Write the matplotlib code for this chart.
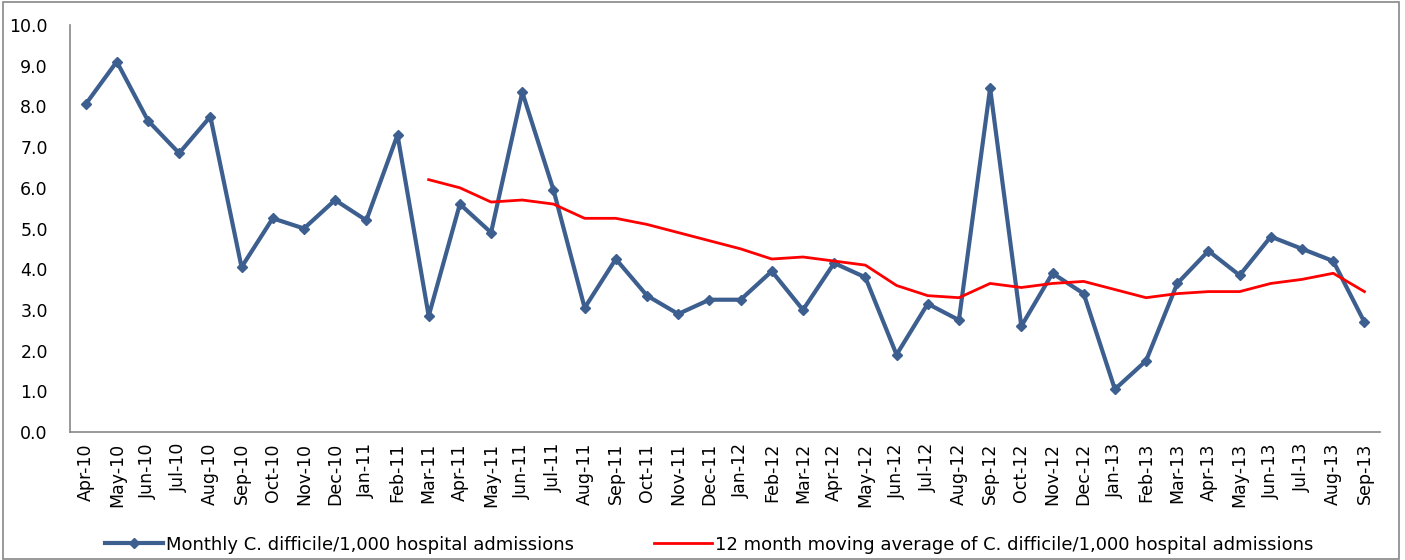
import matplotlib.pyplot as plt
import numpy as np

plt.rcParams['font.family'] = ['DejaVu Sans']

months = ["Apr-10", "May-10", "Jun-10", "Jul-10", "Aug-10", "Sep-10", "Oct-10", "Nov-10",
          "Dec-10", "Jan-11", "Feb-11", "Mar-11", "Apr-11", "May-11", "Jun-11", "Jul-11",
          "Aug-11", "Sep-11", "Oct-11", "Nov-11", "Dec-11", "Jan-12", "Feb-12", "Mar-12",
          "Apr-12", "May-12", "Jun-12", "Jul-12", "Aug-12", "Sep-12", "Oct-12", "Nov-12",
          "Dec-12", "Jan-13", "Feb-13", "Mar-13", "Apr-13", "May-13", "Jun-13", "Jul-13",
          "Aug-13", "Sep-13"]

monthly_rate = [8.05, 9.1, 7.65, 6.85, 7.75, 4.05, 5.25, 5.0, 5.7, 5.2, 7.3, 2.85,
                5.6, 4.9, 8.35, 5.95, 3.05, 4.25, 3.35, 2.9, 3.25, 3.25, 3.95, 3.0,
                4.15, 3.8, 1.9, 3.15, 2.75, 8.45, 2.6, 3.9, 3.4, 1.05, 1.75, 3.65,
                4.45, 3.85, 4.8, 4.5, 4.2, 2.7]

# moving average starts at Mar-11
moving_avg = [6.2, 6.0, 5.65, 5.7, 5.6, 5.25, 5.25, 5.1, 4.9, 4.7, 4.5, 4.25,
              4.3, 4.2, 4.1, 3.6, 3.35, 3.3, 3.65, 3.55, 3.65, 3.7, 3.5, 3.3,
              3.4, 3.45, 3.45, 3.65, 3.75, 3.9, 3.45]

x = np.arange(len(months))
ma_x = x[len(months) - len(moving_avg):]

fig = plt.figure(figsize=(14.05, 5.6), dpi=100)
ax = fig.add_axes([70 / 1405, 128 / 560, 1310 / 1405, 407 / 560])

ax.plot(x, monthly_rate, color="#3D5F8F", lw=3, marker="D", ms=5,
        label="Monthly C. difficile/1,000 hospital admissions")
ax.plot(ma_x, moving_avg, color="#FF0000", lw=2,
        label="12 month moving average of C. difficile/1,000 hospital admissions")

ax.set_xlim(-0.5, len(months) - 0.5)
ax.set_ylim(0, 10)
ax.set_yticks(np.arange(0, 10.1, 1))
ax.set_yticklabels([f"{v:.1f}" for v in np.arange(0, 10.1, 1)], fontsize=12.5)
ax.set_xticks(x)
ax.set_xticklabels(months, rotation=90, fontsize=12.5)
ax.tick_params(axis="x", length=0, pad=8)
ax.tick_params(axis="y", length=0, pad=16)

for side in ["top", "right"]:
    ax.spines[side].set_visible(False)
ax.spines["left"].set_color("#888888")
ax.spines["bottom"].set_color("#888888")
ax.spines["left"].set_linewidth(1.2)
ax.spines["bottom"].set_linewidth(1.2)

ax.legend(loc="center", bbox_to_anchor=(0.488, -0.277), ncol=2, frameon=False,
          fontsize=13, handlelength=3.2, handletextpad=0.2, columnspacing=4.4)

fig.patches.append(plt.Rectangle((0.002, 0.002), 0.994, 0.994, transform=fig.transFigure,
                                 fill=False, edgecolor="#888888", lw=1.2))

fig.savefig("out.png", dpi=100)
